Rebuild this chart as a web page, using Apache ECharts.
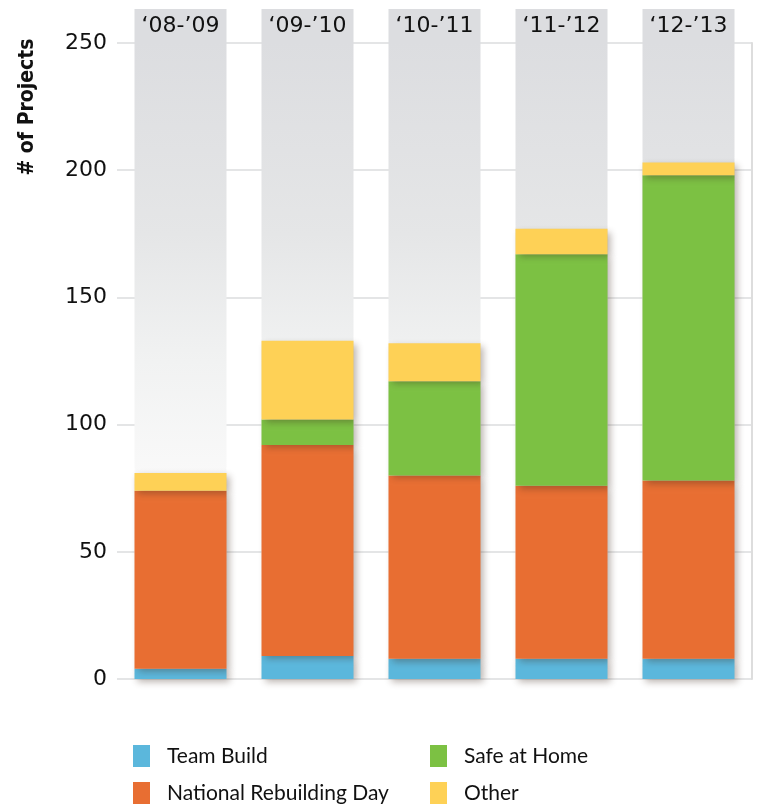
<!DOCTYPE html>
<html>
<head>
<meta charset="utf-8">
<title># of Projects</title>
<script src="https://cdn.jsdelivr.net/npm/echarts@6/dist/echarts.min.js"></script>
<style>
	html, body { margin: 0; padding: 0; background: #ffffff; }
	#chart { width: 759px; height: 810px; }
</style>
</head>
<body>
<div id="chart"></div>
<script>
	//年度分类
	var categories = ["\u201808-\u201909", "\u201809-\u201910", "\u201810-\u201911", "\u201811-\u201912", "\u201812-\u201913"];
	//各项目数量
	var teamBuild = [4, 9, 8, 8, 8];
	var nationalRebuildingDay = [70, 83, 72, 68, 70];
	var safeAtHome = [0, 10, 37, 91, 120];
	var other = [7, 31, 15, 10, 5];
	//纵轴刻度
	var yMin = 0;
	var yMax = 250;
	var yStep = 50;

	var seriesNames = ["Team Build", "National Rebuilding Day", "Safe at Home", "Other"];
	var seriesColors = ["#5bb7dc", "#e86e32", "#7cc143", "#fed156"];
	var seriesData = [teamBuild, nationalRebuildingDay, safeAtHome, other];

	//柱子样式
	function barSeries(index) {
		var item = {
			name: seriesNames[index],
			type: "bar",
			stack: "total",
			barWidth: 92,
			data: seriesData[index],
			itemStyle: {
				color: seriesColors[index],
				shadowBlur: 7,
				shadowOffsetX: 3,
				shadowOffsetY: 3,
				shadowColor: "rgba(60,40,30,0.35)",
			},
			emphasis: { disabled: true },
		};
		//第一个系列负责画灰色背景柱
		if (index === 0) {
			item.showBackground = true;
			item.backgroundStyle = {
				color: new echarts.graphic.LinearGradient(0, 0, 0, 1, [
					{ offset: 0, color: "#dcdde0" },
					{ offset: 0.3, color: "#e5e6e7" },
					{ offset: 0.5, color: "#f1f2f2" },
					{ offset: 0.68, color: "#f9f9f9" },
					{ offset: 1, color: "rgba(255,255,255,0.3)" },
				]),
			};
		}
		return item;
	}

	//图例（两列）
	function legendBlock(names, left) {
		return {
			orient: "vertical",
			left: left,
			top: 745,
			padding: 0,
			itemWidth: 17,
			itemHeight: 22,
			itemGap: 15,
			icon: "rect",
			selectedMode: false,
			data: names,
			textStyle: {
				fontFamily: "Lato",
				fontSize: 21,
				color: "#111111",
				padding: [0, 0, 0, 12],
			},
		};
	}

	var chart = echarts.init(document.getElementById("chart"), null, { renderer: "canvas" });
	var option = {
		animation: false,
		grid: { left: 117, right: 7, top: 43, bottom: 131 },
		xAxis: {
			type: "category",
			position: "top",
			data: categories,
			axisLine: { show: false },
			axisTick: { show: false },
			axisLabel: {
				interval: 0,
				margin: 0,
				fontFamily: "DejaVu Sans",
				fontSize: 22,
				color: "#111111",
				backgroundColor: "#dcdde0",
				width: 92,
				height: 34,
				lineHeight: 34,
				align: "center",
			},
		},
		yAxis: [
			{
				type: "value",
				min: yMin,
				max: yMax,
				interval: yStep,
				axisLine: { show: false },
				axisTick: { show: false },
				axisLabel: {
					margin: 10,
					fontFamily: "DejaVu Sans",
					fontSize: 22,
					color: "#111111",
				},
				splitLine: { lineStyle: { color: "#e4e5e6", width: 2 } },
			},
			{
				type: "value",
				position: "right",
				min: yMin,
				max: yMax,
				interval: yStep,
				axisLine: { show: true, lineStyle: { color: "#dddddd", width: 2 } },
				axisTick: { show: false },
				axisLabel: { show: false },
				splitLine: { show: false },
			},
		],
		legend: [
			legendBlock([seriesNames[0], seriesNames[1]], 133),
			legendBlock([seriesNames[2], seriesNames[3]], 430),
		],
		graphic: [
			{
				type: "text",
				x: 28,
				y: 107,
				rotation: Math.PI / 2,
				style: {
					text: "# of Projects",
					fontFamily: "DejaVu Sans Condensed",
					fontWeight: "bold",
					fontSize: 21,
					fill: "#111111",
					align: "center",
					verticalAlign: "middle",
				},
			},
		],
		series: [barSeries(0), barSeries(1), barSeries(2), barSeries(3)],
	};
	chart.setOption(option);
</script>
</body>
</html>
